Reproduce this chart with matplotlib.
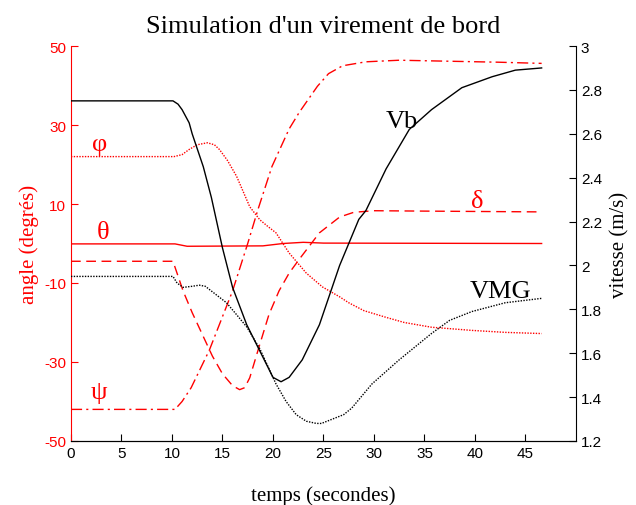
import matplotlib
matplotlib.use("Agg")
import matplotlib.pyplot as plt
import numpy as np

# ---- data ----
phi_t = [0, 10.2, 11, 11.7, 12.5, 13.5, 14.2, 14.7, 15.5, 16.4, 17.7, 18.7, 19.5, 20.3, 21.6, 23.3, 24.9, 26.6, 27.5, 29, 31.2, 33, 35.7, 39.7, 43, 46.6]
phi_v = [22, 22, 22.5, 23.8, 25, 25.5, 25, 23.8, 21, 17, 9.3, 6, 4.3, 2.7, -2.4, -7.5, -11, -13.5, -15, -17, -18.7, -20, -21.2, -22, -22.5, -22.8]

theta_t = [0, 10.3, 11.5, 19, 21, 23, 25, 46.6]
theta_v = [-0.1, -0.1, -0.7, -0.6, 0, 0.3, 0.1, 0]

psi_t = [0, 10.3, 11, 11.9, 13.7, 16, 17.5, 18.5, 19.9, 21.6, 22.6, 24.4, 25.5, 26.9, 29.2, 32.5, 36.4, 42.3, 46.6]
psi_v = [-42, -42, -40, -36.5, -27, -12, 0, 8.5, 19.5, 29, 33.2, 39.8, 43, 45, 46, 46.4, 46.2, 45.9, 45.6]

delta_t = [0, 10.1, 11.1, 12, 13, 14, 15, 16, 16.7, 17.2, 17.7, 18.7, 19.6, 20.6, 21.6, 22.6, 24.6, 26.6, 28, 30, 35, 46.6]
delta_v = [-4.5, -4.5, -12, -17.5, -23, -28.5, -33, -36, -37, -36.5, -34, -25.5, -18, -12, -7.5, -4, 2.7, 6.7, 7.9, 8.3, 8.2, 8]

vb_t = [0, 10.1, 10.6, 11, 11.7, 12, 13.1, 13.9, 15, 16, 17.4, 18.7, 20, 20.8, 21.6, 22.9, 24.6, 26.6, 28.5, 29.2, 31.2, 33.5, 35.7, 38.7, 41.7, 44, 46.6]
vb_v = [2.75, 2.75, 2.735, 2.71, 2.65, 2.6, 2.45, 2.31, 2.08, 1.90, 1.73, 1.61, 1.49, 1.47, 1.49, 1.57, 1.73, 2.0, 2.21, 2.25, 2.44, 2.62, 2.71, 2.81, 2.86, 2.89, 2.90]

vmg_t = [0, 10.1, 10.5, 11.1, 12, 12.7, 13.3, 14, 15.4, 16.5, 17.4, 18.7, 19.6, 20.3, 21.3, 22.3, 23.3, 24.3, 24.8, 25.9, 27, 27.8, 29.8, 32.5, 35.7, 37.5, 39.7, 43, 46.6]
vmg_v = [1.95, 1.95, 1.92, 1.90, 1.905, 1.91, 1.905, 1.88, 1.83, 1.77, 1.72, 1.62, 1.53, 1.46, 1.38, 1.32, 1.29, 1.28, 1.28, 1.30, 1.32, 1.35, 1.46, 1.57, 1.69, 1.75, 1.79, 1.83, 1.85]

angle_ticks = [-50, -30, -10, 10, 30, 50]
speed_ticks = [1.2, 1.4, 1.6, 1.8, 2.0, 2.2, 2.4, 2.6, 2.8, 3.0]
speed_labels = ["1.2", "1.4", "1.6", "1.8", "2", "2.2", "2.4", "2.6", "2.8", "3"]
time_ticks = [0, 5, 10, 15, 20, 25, 30, 35, 40, 45]

serif = "Liberation Serif"
sans = "Liberation Sans"
red = "#ff0000"

fig = plt.figure(figsize=(6.36, 5.06), dpi=100)
ax = fig.add_axes([0.1116, 0.1265, 0.794, 0.7806])
ax2 = ax.twinx()

lw = 1.0
ax.plot(phi_t, phi_v, color=red, lw=lw, linestyle=(0, (1, 1)))
ax.plot(theta_t, theta_v, color=red, lw=lw, linestyle="-")
ax.plot(psi_t, psi_v, color=red, lw=lw, linestyle=(0, (8, 3, 1.5, 3)))
ax.plot(delta_t, delta_v, color=red, lw=lw, linestyle=(0, (7, 4)))
ax2.plot(vb_t, vb_v, color="black", lw=lw, linestyle="-")
ax2.plot(vmg_t, vmg_v, color="black", lw=lw, linestyle=(0, (1, 1)))

ax.set_xlim(0, 50)
ax.set_ylim(-50, 50)
ax2.set_ylim(1.2, 3.0)

ax.set_xticks(time_ticks)
ax.set_xticklabels([str(t) for t in time_ticks], fontfamily=sans, fontsize=11)
ax.set_yticks(angle_ticks)
ax.set_yticklabels([str(t) for t in angle_ticks], fontfamily=sans, fontsize=11, color=red)
ax2.set_yticks(speed_ticks)
ax2.set_yticklabels(speed_labels, fontfamily=sans, fontsize=11)

ax.tick_params(axis="both", direction="in", length=5)
ax.tick_params(axis="y", colors=red)
ax2.tick_params(axis="y", direction="in", length=5, colors="black")

for a in (ax, ax2):
    a.spines["top"].set_visible(False)
ax.spines["left"].set_color(red)
ax.spines["right"].set_visible(False)
ax2.spines["left"].set_visible(False)
ax2.spines["right"].set_color("black")
ax2.spines["bottom"].set_color("black")

ax.set_title("Simulation d'un virement de bord", fontfamily=serif, fontsize=19, pad=10)
ax.set_xlabel("temps (secondes)", fontfamily=serif, fontsize=15, labelpad=18)
ax.set_ylabel("angle (degrés)", fontfamily=serif, fontsize=15, color=red, labelpad=4)
ax2.set_ylabel("vitesse (m/s)", fontfamily=serif, fontsize=15, labelpad=6)

gs = 19
ax.text(2.8, 25.3, "φ", color=red, fontfamily=serif, fontsize=gs, ha="center", va="center")
ax.text(3.2, 2.9, "θ", color=red, fontfamily=serif, fontsize=gs, ha="center", va="center")
ax.text(2.8, -37.6, "ψ", color=red, fontfamily=serif, fontsize=gs, ha="center", va="center")
ax.text(40.2, 10.8, "δ", color=red, fontfamily=serif, fontsize=gs, ha="center", va="center")
ax2.text(32.8, 2.66, "Vb", color="black", fontfamily=serif, fontsize=gs, ha="center", va="center")
ax2.text(42.5, 1.885, "VMG", color="black", fontfamily=serif, fontsize=gs, ha="center", va="center")

fig.savefig("out.png", dpi=100)
